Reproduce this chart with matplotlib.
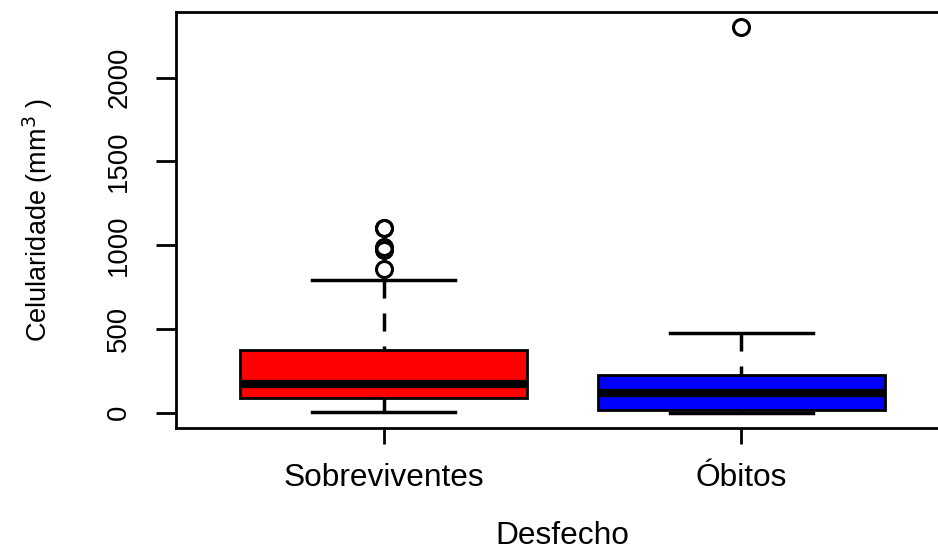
import numpy as np
import matplotlib
matplotlib.use("Agg")
import matplotlib.pyplot as plt

# values
groups = ["Sobreviventes", "Óbitos"]
q1 = [90, 18]
medians = [168, 120]
q3 = [371, 227]
whisk_lo = [5, 0]
whisk_hi = [790, 473]
outliers = [[855, 970, 990, 1100, 1105], [2300]]
box_colors = ["#ff0000", "#0000ff"]

plt.rcParams['font.family'] = ['Liberation Sans', 'DejaVu Sans']

fig = plt.figure(figsize=(9.38, 5.56), dpi=100)
ax = fig.add_axes([0.1876, 0.2302, 0.8241, 0.7482])

stats = []
for i in range(len(groups)):
    stats.append(dict(label=groups[i], q1=q1[i], med=medians[i], q3=q3[i],
                      whislo=whisk_lo[i], whishi=whisk_hi[i], fliers=outliers[i]))

bp = ax.bxp(stats, positions=[1, 2], widths=0.8, patch_artist=True,
            showfliers=True,
            boxprops=dict(linewidth=2, edgecolor='black'),
            medianprops=dict(color='black', linewidth=6, solid_capstyle='butt'),
            whiskerprops=dict(color='black', linewidth=2.5,
                              linestyle=(0, (5.2, 4.3)), dash_capstyle='butt'),
            capprops=dict(color='black', linewidth=2.5),
            capwidths=0.4,
            flierprops=dict(marker='o', markerfacecolor='none',
                            markeredgecolor='black', markersize=11.5,
                            markeredgewidth=2.2))

for patch, c in zip(bp['boxes'], box_colors):
    patch.set_facecolor(c)

# R draws whiskers from the cap towards the box, so the dash pattern starts at the cap
for w in bp['whiskers']:
    y = w.get_ydata()
    w.set_ydata(y[::-1])

ax.set_xlim(0.42, 2.58)
ax.set_ylim(-92, 2392)
ax.set_yticks([0, 500, 1000, 1500, 2000])
ax.set_yticklabels(["0", "500", "1000", "1500", "2000"], rotation=90, va='center',
                   fontsize=19.8)
ax.set_xticks([1, 2])
ax.set_xticklabels(groups, fontsize=22.8)
ax.tick_params(axis='y', length=14.5, width=2, pad=17)
ax.tick_params(axis='x', length=11.5, width=2, pad=14)

for s in ax.spines.values():
    s.set_linewidth(2)

ax.set_xlabel("Desfecho", fontsize=22.8, labelpad=20)
ax.set_ylabel("Celularidade (mm$^3$ )", fontsize=19.5, labelpad=37)

fig.savefig("out.png", dpi=100)
